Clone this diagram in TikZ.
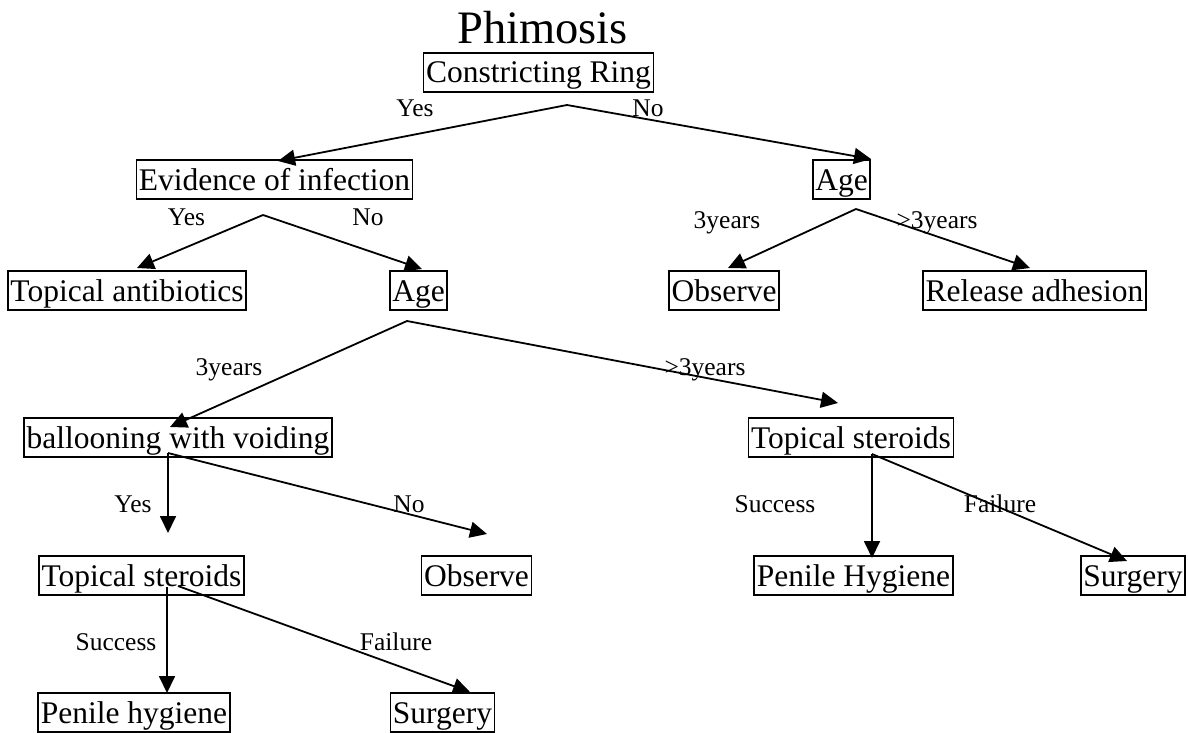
\documentclass[tikz,border=0pt]{standalone}
\usepackage{fontspec}
\setmainfont{Liberation Serif}
\usetikzlibrary{arrows.meta}
\begin{document}
\begin{tikzpicture}[x=1pt,y=-1pt,
  box/.style={draw, line width=1.8pt, font=\fontsize{31.5}{36}\selectfont,
    text height=24pt, text depth=3pt, inner ysep=6pt, inner xsep=2.5pt, anchor=base},
  lab/.style={font=\fontsize{25.5}{30}\selectfont, inner sep=0pt, anchor=base},
  ttl/.style={font=\fontsize{46.5}{54}\selectfont, inner sep=0pt, anchor=base},
  conn/.style={line width=1.8pt, -{Triangle[length=17pt,width=16pt]}}]
\useasboundingbox (0,0) rectangle (1188,733);
% title
\node[ttl] (title) at (542.5,44) {Phimosis};
% boxes
\node[box] (cr) at (538.5,83) {Constricting Ring};
\node[box] (ev) at (274.5,190) {Evidence of infection};
\node[box] (ageR) at (841.5,190) {Age};
\node[box] (ta) at (127,301) {Topical antibiotics};
\node[box] (ageM) at (418.5,301) {Age};
\node[box] (obsR) at (724,301) {Observe};
\node[box] (rel) at (1034.5,301) {Release adhesion};
\node[box] (bal) at (178,448) {ballooning with voiding};
\node[box] (tsR) at (851,448) {Topical steroids};
\node[box] (tsL) at (141.5,586) {Topical steroids};
\node[box] (obsM) at (476.5,586) {Observe};
\node[box] (phR) at (853.5,586) {Penile Hygiene};
\node[box] (surR) at (1133,586) {Surgery};
\node[box] (phL) at (134,723) {Penile hygiene};
\node[box] (surL) at (442.5,723) {Surgery};
% branch points
\coordinate (pCR) at (567,105);
\coordinate (pEV) at (263,215);
\coordinate (pAR) at (856,209);
\coordinate (pAM) at (407,321);
\coordinate (pBA) at (168,453);
\coordinate (pTR) at (872,454);
\coordinate (pTL) at (167,587);
\coordinate (pTL2) at (178,586);
% arrow tips
\coordinate (tEV) at (278,161);
\coordinate (tAR) at (871,159);
\coordinate (tTA) at (137,268);
\coordinate (tAM) at (422,269);
\coordinate (tOR) at (728,268);
\coordinate (tRA) at (1030,268);
\coordinate (tBA) at (170,427);
\coordinate (tTR) at (838,403);
\coordinate (tTL) at (168,533);
\coordinate (tOM) at (487,534);
\coordinate (tPR) at (872,558);
\coordinate (tSR) at (1127,561);
\coordinate (tPL) at (167,693);
\coordinate (tSL) at (470,692);
% connectors
\draw[conn] (pCR) -- (tEV);
\draw[conn] (pCR) -- (tAR);
\draw[conn] (pEV) -- (tTA);
\draw[conn] (pEV) -- (tAM);
\draw[conn] (pAR) -- (tOR);
\draw[conn] (pAR) -- (tRA);
\draw[conn] (pAM) -- (tBA);
\draw[conn] (pAM) -- (tTR);
\draw[conn] (pBA) -- (tTL);
\draw[conn] (pBA) -- (tOM);
\draw[conn] (pTR) -- (tPR);
\draw[conn] (pTR) -- (tSR);
\draw[conn] (pTL) -- (tPL);
\draw[conn] (pTL2) -- (tSL);
% labels
\node[lab] (l1) at (415,117) {Yes};
\node[lab] (l2) at (648,117) {No};
\node[lab] (l3) at (186.5,225) {Yes};
\node[lab] (l4) at (368,225) {No};
\node[lab] (l5) at (727,228) {3years};
\node[lab] (l6) at (937,228) {>3years};
\node[lab] (l7) at (229,375) {3years};
\node[lab] (l8) at (705,375) {>3years};
\node[lab] (l9) at (133,512) {Yes};
\node[lab] (l10) at (409,512) {No};
\node[lab] (l11) at (775,512) {Success};
\node[lab] (l12) at (1000,512) {Failure};
\node[lab] (l13) at (116,650) {Success};
\node[lab] (l14) at (396,650) {Failure};
\end{tikzpicture}
\end{document}
